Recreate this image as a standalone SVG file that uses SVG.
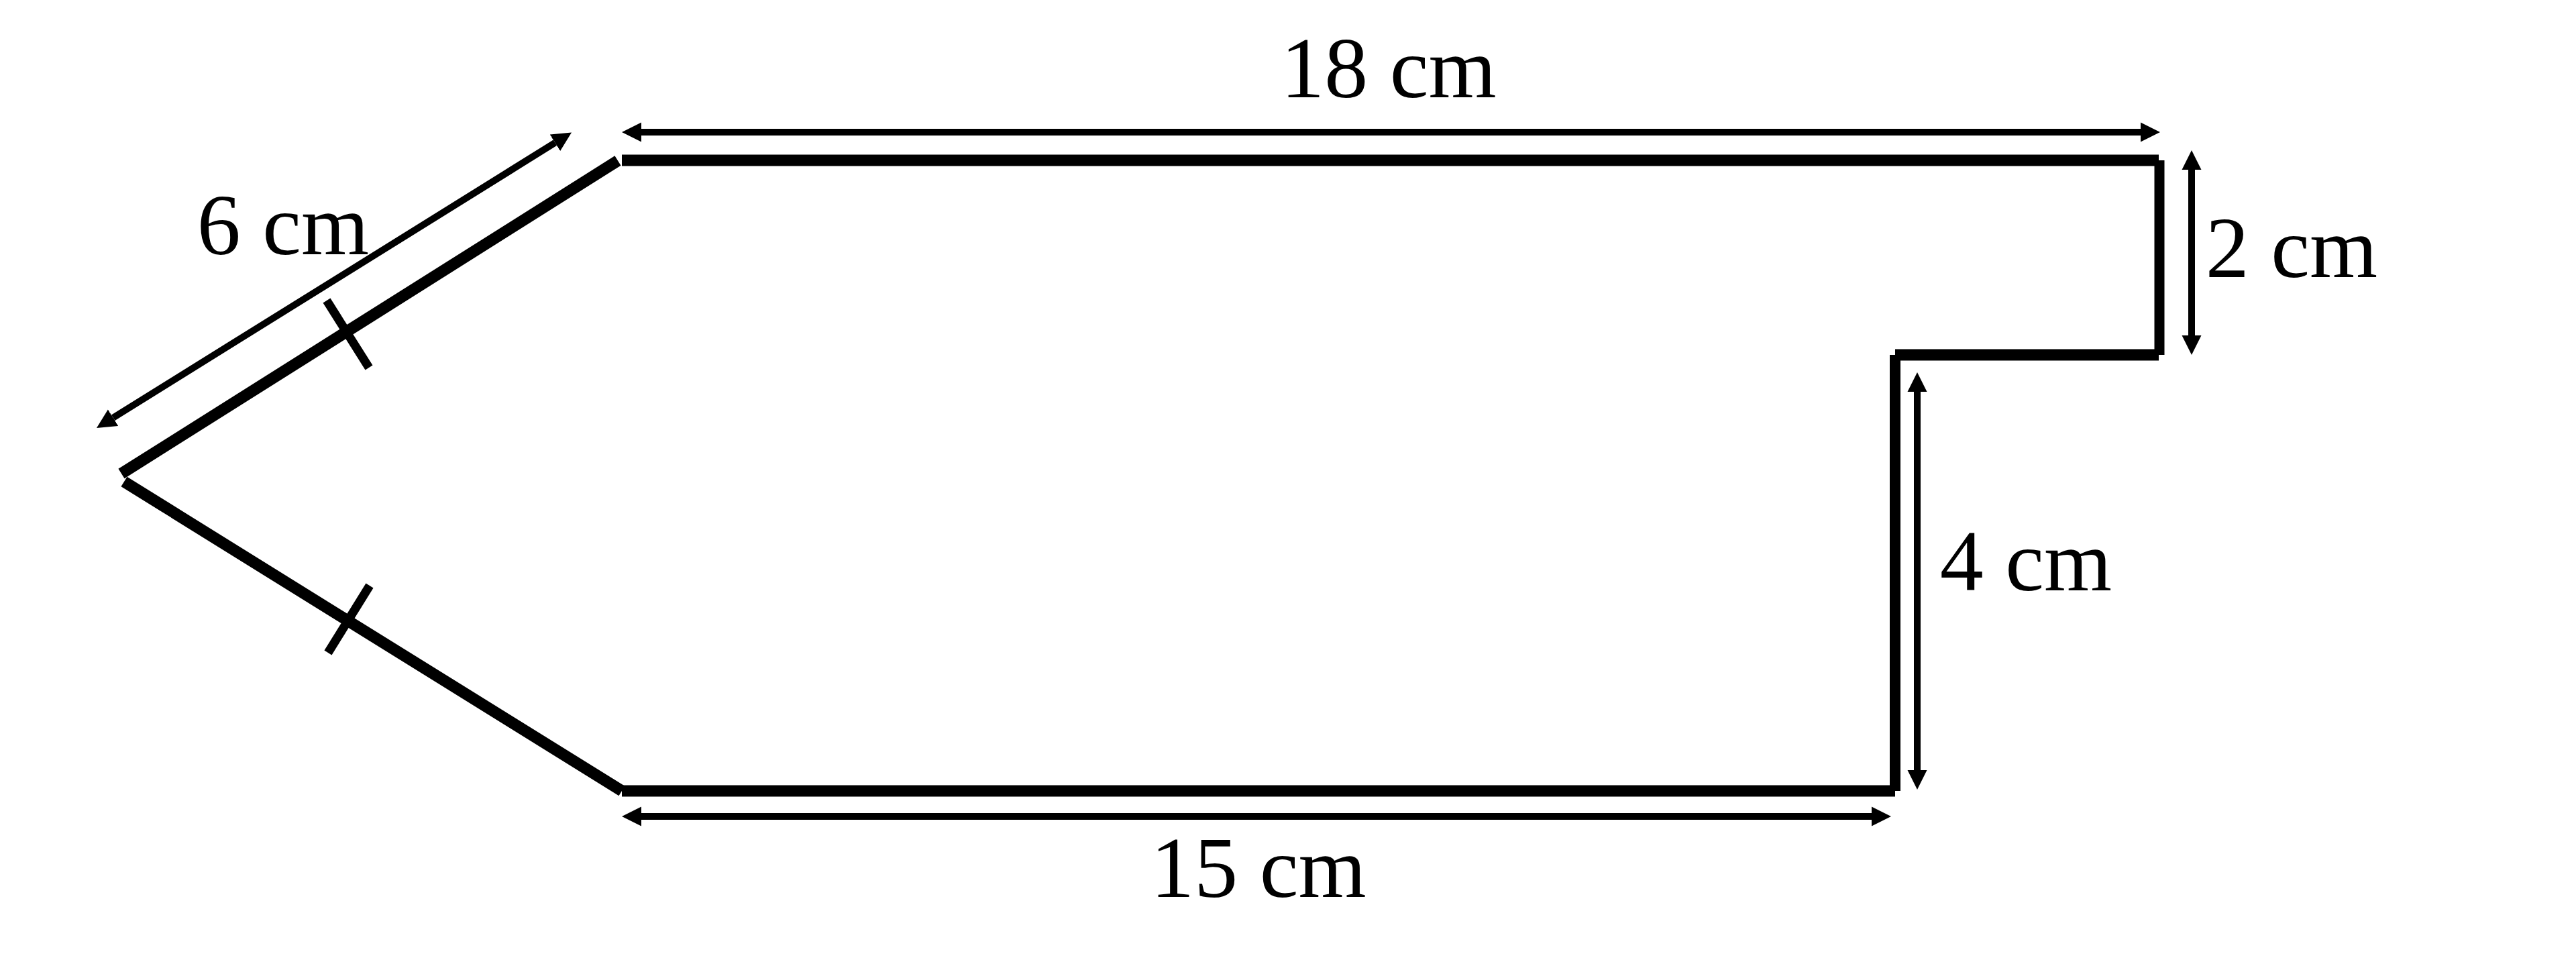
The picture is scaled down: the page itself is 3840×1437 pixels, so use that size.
<svg xmlns="http://www.w3.org/2000/svg" width="3840" height="1437" viewBox="0 0 3840 1437">
<style>
.edge{stroke:#000;stroke-width:17;fill:none;stroke-linecap:butt}
.tick{stroke:#000;stroke-width:13;fill:none;stroke-linecap:butt}
.dim{stroke:#000;stroke-width:10;fill:none;marker-start:url(#ah);marker-end:url(#ah)}
.lbl{font-family:"Liberation Serif","Times New Roman",serif;font-size:130px;fill:#000;text-anchor:middle}
</style>
<defs>
<marker id="ah" markerUnits="userSpaceOnUse" markerWidth="30" markerHeight="30" viewBox="0 -15 30 30" refX="0" refY="0" orient="auto-start-reverse">
<path d="M0,-14.5 L29,0 L0,14.5 Z" fill="#000"/>
</marker>
</defs>
<rect width="3840" height="1437" fill="#fff"/>
<g id="shape">
<line class="edge" x1="921" y1="239.5" x2="181" y2="706"/>
<line class="edge" x1="185" y1="718" x2="927" y2="1179"/>
<line class="edge" x1="927" y1="239" x2="3218" y2="239"/>
<line class="edge" x1="3219" y1="239" x2="3219" y2="529" style="stroke-width:15"/>
<line class="edge" x1="3218" y1="529" x2="2825" y2="529"/>
<line class="edge" x1="2825" y1="529" x2="2825" y2="1179" style="stroke-width:16"/>
<line class="edge" x1="2825" y1="1179" x2="927" y2="1179"/>
</g>
<g id="ticks">
<line class="tick" x1="487" y1="448" x2="550" y2="548"/>
<line class="tick" x1="551" y1="873" x2="489" y2="973"/>
</g>
<g id="connectors">
<line class="dim" x1="956" y1="197" x2="3191" y2="197"/>
<line class="dim" x1="956" y1="1217" x2="2790" y2="1217"/>
<line class="dim" x1="3267" y1="253" x2="3267" y2="500"/>
<line class="dim" x1="2858" y1="584" x2="2858" y2="1148"/>
<line class="dim" x1="168.6" y1="622.7" x2="827.4" y2="212.8"/>
</g>
<g id="label-18"><text class="lbl" x="2070" y="145">18 cm</text></g>
<g id="label-6"><text class="lbl" x="422" y="379">6 cm</text></g>
<g id="label-2"><text class="lbl" x="3416" y="413">2 cm</text></g>
<g id="label-4"><text class="lbl" x="3020" y="880">4 cm</text></g>
<g id="label-15"><text class="lbl" x="1876" y="1337">15 cm</text></g>
</svg>
